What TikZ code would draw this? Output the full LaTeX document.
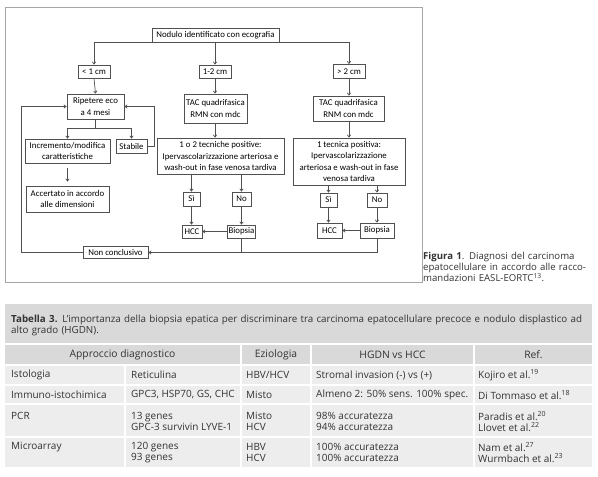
\documentclass[tikz,border=0pt]{standalone}
\usepackage{fontspec}
\setmainfont{Open Sans}
\newfontfamily\flowfont{Carlito}
\usetikzlibrary{arrows.meta,calc}
\definecolor{ln}{HTML}{505050}
\definecolor{fr}{HTML}{A6A6A6}
\definecolor{hd}{HTML}{D9D9D9}
\definecolor{bd}{HTML}{EDEDED}
\definecolor{tx}{HTML}{333333}
\begin{document}
\begin{tikzpicture}[x=1pt,y=-1pt,
 box/.style={draw=ln, line width=0.8pt, inner sep=1pt, align=center, font=\flowfont\fontsize{8.8}{11.2}\selectfont, text=black},
 arr/.style={draw=ln, line width=0.7pt, -{Straight Barb[length=2.2pt,width=3.4pt]}},
 lnk/.style={draw=ln, line width=0.7pt},
 cell/.style={anchor=west, inner sep=0pt, font=\fontsize{10}{11}\selectfont, text=tx, align=left},
 hcell/.style={inner sep=0pt, font=\fontsize{10.3}{11}\selectfont, text=tx},
]
\fill[white] (0,0) rectangle (598,477);
\useasboundingbox (0,0) rectangle (598,477);
% frame
\draw[fr, line width=0.9pt] (5,7) rectangle (422,282);

% flowchart nodes
\node[box, minimum width=127pt, minimum height=14pt] (top) at (215.5,35) {Nodulo identificato con ecografia};
\node[box, minimum width=32pt, minimum height=13pt] (lt1) at (94,71.5) {< 1 cm};
\node[box, minimum width=32pt, minimum height=13pt] (mid) at (215,71.5) {1-2 cm};
\node[box, minimum width=32pt, minimum height=14pt] (gt2) at (349,71.5) {> 2 cm};
\node[box, minimum width=57pt, minimum height=25pt] (rip) at (95.5,106.5) {Ripetere eco\\a 4 mesi};
\node[box, minimum width=63pt, minimum height=29pt] (tac1) at (215.5,108.5) {TAC quadrifasica\\RMN con mdc};
\node[box, minimum width=71pt, minimum height=25pt] (tac2) at (348.5,108.5) {TAC quadrifasica\\RNM con mdc};
\node[box, minimum width=85pt, minimum height=24pt] (inc) at (67.5,151) {Incremento/modifica\\caratteristiche};
\node[box, minimum width=31pt, minimum height=14pt] (stab) at (131.5,146) {Stabile};
\node[box, minimum width=83pt, minimum height=26pt] (acc) at (67.5,199) {Accertato in accordo\\alle dimensioni};
\node[box, minimum width=127pt, minimum height=36pt] (tec1) at (220.5,156) {1 o 2 tecniche positive:\\Ipervascolarizzazione\ arteriosa\ e\\wash-out in fase venosa tardiva};
\node[box, minimum width=112pt, minimum height=47pt] (tec2) at (349,161.5) {1 tecnica positiva:\\Ipervascolarizzazione\\arteriosa e wash-out in fase\\venosa tardiva};
\node[box, minimum width=17pt, minimum height=14pt] (si1) at (191.5,199) {Sì};
\node[box, minimum width=19pt, minimum height=14pt] (no1) at (241.5,199) {No};
\node[box, minimum width=20pt, minimum height=13pt] (hcc1) at (192,231.5) {HCC};
\node[box, minimum width=27pt, minimum height=13pt] (bio1) at (241.5,231.5) {Biopsia};
\node[box, minimum width=17pt, minimum height=14pt] (si2) at (328.5,200) {Sì};
\node[box, minimum width=20pt, minimum height=14pt] (no2) at (377,200) {No};
\node[box, minimum width=25pt, minimum height=15pt] (hcc2) at (329.5,230.5) {HCC};
\node[box, minimum width=34pt, minimum height=15pt] (bio2) at (377,230.5) {Biopsia};
\node[box, minimum width=65pt, minimum height=12pt] (nonc) at (115.5,252.5) {Non conclusivo};

% connectors
\draw[arr] (top.south) -| (lt1.north);
\draw[arr] (top.south) -| (gt2.north);
\draw[arr] (top.south -| mid.north) -- (mid.north);
\draw[arr] (lt1.south) -- (rip.north);
\coordinate (rb) at ($(rip.south)+(0,9)$);
\draw[lnk] (rip.south) -- (rb);
\draw[arr] (rb) -| (inc.north);
\draw[arr] (rb) -| (stab.north);
\coordinate (sr) at ($(stab.east)+(7,0)$);
\draw[arr] (stab.east) -- (sr) |- (rip.east);
\draw[arr, shorten <=5pt, shorten >=4pt] (inc.south) -- (acc.north);
\draw[arr] (mid.south) -- (tac1.north -| mid.south);
\draw[arr] (tac1.south -| mid.south) -- (tec1.north -| mid.south);
\draw[arr] (gt2.south) -- (tac2.north -| gt2.south);
\draw[arr] (tac2.south -| gt2.south) -- (tec2.north -| gt2.south);
\draw[arr] (tec1.south -| si1.north) -- (si1.north);
\draw[arr] (tec1.south -| no1.north) -- (no1.north);
\draw[arr] (si1.south) -- (hcc1.north -| si1.south);
\draw[arr] (no1.south) -- (bio1.north);
\draw[arr] (bio1.west) -- (hcc1.east);
\draw[arr] (tec2.south -| si2.north) -- (si2.north);
\draw[arr] (tec2.south -| no2.north) -- (no2.north);
\draw[arr] (si2.south) -- (hcc2.north -| si2.south);
\draw[arr] (no2.south) -- (bio2.north);
\draw[arr] (bio2.west) -- (hcc2.east);
\draw[arr] (bio2.south) |- (nonc.east);
\draw[lnk] (bio1.south) -- (bio1.south |- nonc.east);
\coordinate (ll) at (21,252.5);
\draw[arr] (nonc.west) -- (ll) |- (rip.west);

% caption
\node[anchor=north west, inner sep=0pt, font=\fontsize{9.6}{9}\selectfont, text=tx, text width=173pt, align=left] (cap) at (423,252) {\makebox[173pt][s]{\textbf{Figura 1}. Diagnosi del carcinoma}\\\makebox[173pt][s]{epatocellulare in accordo alle racco-}\\mandazioni EASL-EORTC\textsuperscript{13}.};

% table backgrounds
\fill[hd] (5,304) rectangle (592,343);
\fill[hd] (5,345) rectangle (240,364);
\fill[hd] (242,345) rectangle (310,364);
\fill[hd] (312,345) rectangle (473,364);
\fill[hd] (475,345) rectangle (592,364);
\foreach \ya/\yb in {366/384,386/403,405/436,438/467}{
  \fill[bd] (5,\ya) rectangle (124,\yb);
  \fill[bd] (126,\ya) rectangle (240,\yb);
  \fill[bd] (242,\ya) rectangle (310,\yb);
  \fill[bd] (312,\ya) rectangle (473,\yb);
  \fill[bd] (475,\ya) rectangle (592,\yb);
}
% title
\node[cell, font=\fontsize{9.8}{11.5}\selectfont, text width=576pt] (ttl) at (11,325.5) {\makebox[576pt][s]{\textbf{Tabella 3.} L’importanza della biopsia epatica per discriminare tra carcinoma epatocellulare precoce e nodulo displastico ad}\\alto grado (HGDN).};
% header
\node[hcell] (h1) at (122.5,355) {Approccio diagnostico};
\node[hcell] (h2) at (276,355) {Eziologia};
\node[hcell] (h3) at (392.5,355) {HGDN vs HCC};
\node[hcell] (h4) at (533.5,355) {Ref.};
% rows
\node[cell] (a1) at (11,375) {Istologia};
\node[cell] (b1) at (131,375) {Reticulina};
\node[cell] (c1) at (246,375) {HBV/HCV};
\node[cell] (d1) at (316,375) {Stromal invasion (-) vs (+)};
\node[cell] (e1) at (478,375) {Kojiro et al.\textsuperscript{19}};
\node[cell] (a2) at (11,395) {Immuno-istochimica};
\node[cell] (b2) at (131,395) {GPC3, HSP70, GS, CHC};
\node[cell] (c2) at (246,395) {Misto};
\node[cell] (d2) at (316,395) {Almeno 2: 50\% sens. 100\% spec.};
\node[cell] (e2) at (478,395) {Di Tommaso et al.\textsuperscript{18}};
\node[cell] (a3) at (11,416) {PCR};
\node[cell] (b3) at (131,421.5) {13 genes\\GPC-3 survivin LYVE-1};
\node[cell] (c3) at (246,421.5) {Misto\\HCV};
\node[cell] (d3) at (316,421.5) {98\% accuratezza\\94\% accuratezza};
\node[cell] (e3) at (478,421.5) {Paradis et al.\textsuperscript{20}\\Llovet et al.\textsuperscript{22}};
\node[cell] (a4) at (11,447) {Microarray};
\node[cell] (b4) at (131,452.5) {120 genes\\93 genes};
\node[cell] (c4) at (246,452.5) {HBV\\HCV};
\node[cell] (d4) at (316,452.5) {100\% accuratezza\\100\% accuratezza};
\node[cell] (e4) at (478,452.5) {Nam et al.\textsuperscript{27}\\Wurmbach et al.\textsuperscript{23}};
\end{tikzpicture}
\end{document}
